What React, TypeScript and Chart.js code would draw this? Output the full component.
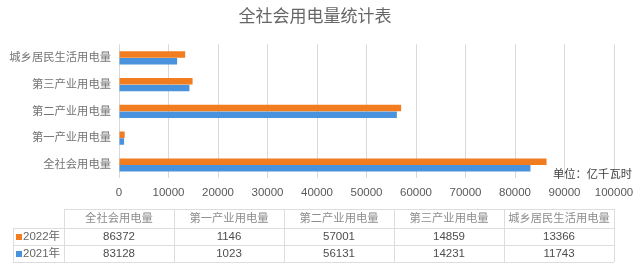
import React, { useEffect, useRef } from "react";
import { Chart, registerables } from "chart.js";

Chart.register(...registerables);

const title = "全社会用电量统计表";
const unitLabel = "单位：亿千瓦时";
const categories = ["全社会用电量", "第一产业用电量", "第二产业用电量", "第三产业用电量", "城乡居民生活用电量"];
const seriesNames = ["2022年", "2021年"];
const values2022 = [86372, 1146, 57001, 14859, 13366];
const values2021 = [83128, 1023, 56131, 14231, 11743];
const colors = ["#F17D20", "#4992DE"];
const xMax = 100000;
const xStep = 10000;

const CJK = "'Liberation Sans', 'Noto Sans CJK SC', sans-serif";

export default function App() {
  const ref = useRef<HTMLCanvasElement | null>(null);

  useEffect(() => {
    document.body.style.margin = "0";
    const canvas = ref.current!;
    // chart shows categories top-to-bottom reversed relative to the table
    const labels = [...categories].reverse();
    const d22 = [...values2022].reverse();
    const d21 = [...values2021].reverse();

    const overlay = {
      id: "overlay",
      afterDraw(chart: any) {
        const ctx = chart.ctx as CanvasRenderingContext2D;
        const x = chart.scales.x;
        ctx.save();
        // title
        ctx.fillStyle = "#666666";
        ctx.font = `17px ${CJK}`;
        ctx.textAlign = "center";
        ctx.textBaseline = "middle";
        ctx.fillText(title, 315, 17);
        // unit
        ctx.fillStyle = "#404040";
        ctx.font = `11.3px ${CJK}`;
        ctx.textAlign = "right";
        ctx.fillText(unitLabel, 632, 175);

        // data table
        const left = 13;
        const colStart = x.getPixelForValue(0) - 55;
        const right = x.right;
        const colW = (right - colStart) / categories.length;
        const rows = [209, 228, 245, 262];
        ctx.strokeStyle = "#DDDDDD";
        ctx.lineWidth = 1;
        ctx.beginPath();
        ctx.moveTo(colStart, rows[0] + 0.5);
        ctx.lineTo(right, rows[0] + 0.5);
        for (let i = 1; i < rows.length; i++) {
          ctx.moveTo(left, rows[i] + 0.5);
          ctx.lineTo(right, rows[i] + 0.5);
        }
        ctx.moveTo(left + 0.5, rows[1]);
        ctx.lineTo(left + 0.5, rows[3]);
        for (let c = 0; c <= categories.length; c++) {
          const cx = Math.round(colStart + c * colW) + 0.5;
          ctx.moveTo(cx, rows[0]);
          ctx.lineTo(cx, rows[3]);
        }
        ctx.stroke();

        ctx.textAlign = "center";
        ctx.textBaseline = "middle";
        ctx.fillStyle = "#8C8C8C";
        ctx.font = `11.3px ${CJK}`;
        categories.forEach((c, i) => {
          ctx.fillText(c, colStart + (i + 0.5) * colW, (rows[0] + rows[1]) / 2 + 0.5);
        });
        const series = [values2022, values2021];
        series.forEach((vals, r) => {
          const cy = (rows[r + 1] + rows[r + 2]) / 2 + 0.5;
          ctx.fillStyle = "#4D4D4D";
          ctx.font = `11.5px ${CJK}`;
          ctx.textAlign = "center";
          vals.forEach((v, i) => {
            ctx.fillText(String(v), colStart + (i + 0.5) * colW, cy);
          });
          ctx.fillStyle = colors[r];
          ctx.fillRect(16, cy - 3, 6, 6);
          ctx.fillStyle = "#666666";
          ctx.textAlign = "left";
          ctx.fillText(seriesNames[r], 23, cy);
        });
        ctx.restore();
      },
    };

    const chart = new Chart(canvas, {
      type: "bar",
      data: {
        labels,
        datasets: [
          { label: seriesNames[0], data: d22, backgroundColor: colors[0], categoryPercentage: 0.5, barPercentage: 0.97 },
          { label: seriesNames[1], data: d21, backgroundColor: colors[1], categoryPercentage: 0.5, barPercentage: 0.97 },
        ],
      },
      options: {
        indexAxis: "y",
        animation: false,
        responsive: false,
        maintainAspectRatio: false,
        layout: { padding: { left: 0, right: 30, top: 44.4, bottom: 72.6 } },
        plugins: { legend: { display: false }, tooltip: { enabled: false }, title: { display: false } },
        scales: {
          x: {
            min: 0,
            max: xMax,
            border: { display: false },
            grid: { color: "#D9D9D9", drawTicks: false, lineWidth: 1 },
            ticks: {
              stepSize: xStep,
              color: "#595959",
              padding: 8,
              font: { size: 11.5, family: CJK },
              callback: (v: any) => String(v),
            },
            afterFit: (s: any) => { s.height = 20; },
          },
          y: {
            border: { display: false },
            grid: { display: false, drawTicks: false },
            ticks: { color: "#737373", padding: 8, font: { size: 11.3, family: CJK } },
            afterFit: (s: any) => { s.width = 119; },
          },
        },
      },
      plugins: [overlay],
    } as any);
    return () => chart.destroy();
  }, []);

  return (
    <div style={{ width: 644, height: 271, background: "#fff" }}>
      <canvas ref={ref} width={644} height={271} style={{ display: "block" }} />
    </div>
  );
}
